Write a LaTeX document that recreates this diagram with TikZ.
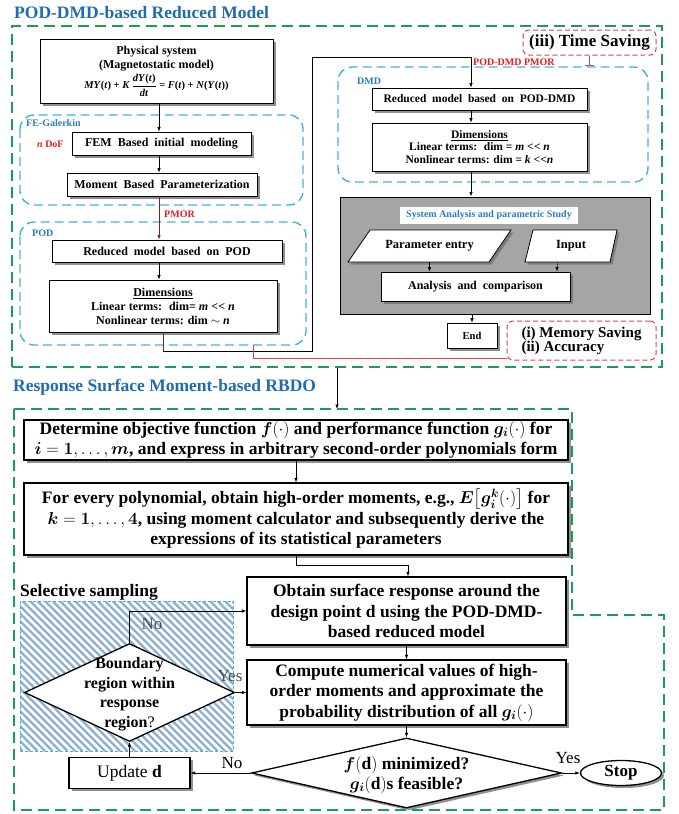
\documentclass[tikz,border=0pt]{standalone}
\usepackage{amsmath}
\usepackage{bm}
\usepackage{fontspec}
\setmainfont{Liberation Serif}
\usetikzlibrary{positioning,arrows.meta,shapes.geometric,shadows}
\definecolor{gline}{RGB}{30,155,85}
\definecolor{bline}{RGB}{65,178,230}
\definecolor{rline}{RGB}{210,70,80}
\definecolor{ttl}{RGB}{30,108,178}
\definecolor{lbl}{RGB}{40,125,195}
\definecolor{redt}{RGB}{228,30,30}
\definecolor{dred}{RGB}{150,25,25}
\definecolor{hatchc}{RGB}{140,175,210}
\definecolor{sysgray}{RGB}{165,165,165}
\newcommand{\wsp}{\spaceskip=0.5em plus 0.1em\relax}
\newcommand{\llt}{\textless\kern0.3pt\textless}

\begin{document}
\begin{tikzpicture}[x=1pt,y=-1pt,
  shd/.style={drop shadow={shadow xshift=2.5pt, shadow yshift=-2.5pt, fill=black!55, opacity=0.8}},
  sbox/.style={draw, line width=0.8pt, fill=white, inner sep=0pt, align=center, shd,
               font=\fontsize{12}{14}\selectfont\bfseries},
  wide/.style={font=\fontsize{12}{14}\selectfont\bfseries\wsp},
  bbox/.style={draw, line width=1.3pt, fill=white, inner sep=0pt, align=center, shd,
               font=\fontsize{17.5}{20.5}\selectfont\bfseries},
  gfr/.style={draw=gline, line width=1.8pt, dash pattern=on 11pt off 6pt},
  bfr/.style={draw=bline, line width=1.4pt, dash pattern=on 9pt off 5pt, rounded corners=14pt},
  rfr/.style={draw=rline, line width=1pt, dash pattern=on 5pt off 3pt, rounded corners=6pt},
  ttlf/.style={font=\fontsize{17.5}{20}\selectfont\bfseries, text=ttl, inner sep=0pt, anchor=west},
  tag/.style={font=\fontsize{10}{11}\selectfont\bfseries, text=lbl, inner sep=0pt, anchor=west},
  redtag/.style={font=\fontsize{10}{11}\selectfont\bfseries, text=redt, inner sep=0pt, anchor=west},
  lab/.style={font=\fontsize{17}{19}\selectfont, inner sep=0pt},
  pbox/.style={draw, line width=0.8pt, fill=white, shd},
  arr/.style={-{Latex[length=4.5pt,width=3.5pt]}, line width=0.7pt}]
\useasboundingbox (0,0) rectangle (678,814);

% POD-DMD part
\node[ttlf] (t1) at (14,13) {POD-DMD-based Reduced Model};
\node[gfr, minimum width=650pt, minimum height=341pt] (topfr) at (337,196.5) {};
\draw[bfr] (20,115) rectangle (303,205);
\draw[bfr] (20,222) rectangle (306,345);
\draw[bfr] (338,67) rectangle (648,182);
\node[tag] (feg) at (26,123) {FE-Galerkin};
\node[tag] (podt) at (32,233) {POD};
\node[tag] (dmdt) at (357,81) {DMD};
\node[redtag] (ndof) at (37,144) {\textit{n} DoF};
\node[redtag] (pmor) at (164,214) {PMOR};
\node[redtag] (pdpmor) at (473,62) {POD-DMD PMOR};
\coordinate (lcol) at (159,0);
\coordinate (dcol) at (471,0);

\node[sbox, minimum width=233pt, minimum height=64pt] (phys) at (156.5,71)
  {Physical system\\(Magnetostatic model)\\[2pt]
   {\fontsize{10.5}{12}\selectfont\textit{MY}(\textit{t}) + \textit{K}\,$\dfrac{\text{\textit{dY}(\textit{t})}}{\text{\textit{dt}}}$ = \textit{F}(\textit{t}) + \textit{N}(\textit{Y}(\textit{t}))}};
\node[sbox, wide, minimum width=179pt, minimum height=23pt] (fem) at (161.5,143.5) {FEM Based initial modeling};
\node[sbox, wide, minimum width=190pt, minimum height=23pt] (mbp) at (162,184.5) {Moment Based Parameterization};
\node[sbox, wide, minimum width=230pt, minimum height=22pt] (redpod) at (167,251) {Reduced model based on POD};
\node[sbox, minimum width=228pt, minimum height=52pt] (dimpod) at (163,306)
  {\underline{Dimensions}\\Linear terms: \ dim= \textit{m} \llt\ \textit{n}\\Nonlinear terms: dim $\sim$ \textit{n}};
\draw[arr] (phys.south -| lcol) -- (fem.north -| lcol);
\draw[arr] (fem.south -| lcol) -- (mbp.north -| lcol);
\draw[arr, dred] (mbp.south -| lcol) -- (redpod.north -| lcol);
\draw[arr] (redpod.south -| lcol) -- (dimpod.north -| lcol);

\node[sbox, wide, font=\fontsize{11.5}{13}\selectfont\bfseries\wsp, minimum width=215pt, minimum height=22pt] (redd) at (479.5,99) {Reduced model based on POD-DMD};
\node[sbox, font=\fontsize{11.5}{12.5}\selectfont\bfseries, minimum width=215pt, minimum height=48pt] (dimd) at (479.5,147)
  {\underline{Dimensions}\\Linear terms: \ dim = \textit{m} \llt\ \textit{n}\\Nonlinear terms: dim = \textit{k} \llt\textit{n}};
\draw[dred, line width=0.8pt] (dimpod.south) -- ++(0,19) coordinate (k1);
\draw[arr] (k1) -| (312,57) -| (redd.north -| dcol);
\draw[arr] (redd.south -| dcol) -- (dimd.north -| dcol);

% system analysis block
\node[draw, line width=1pt, fill=sysgray, minimum width=310pt, minimum height=117pt] (sys) at (495,255.5) {};
\draw[arr] (dimd.south -| dcol) -- (sys.north -| dcol);
\node[fill=white, minimum width=178pt, minimum height=17pt, inner sep=0pt,
      font=\fontsize{10}{11}\selectfont\bfseries, text=lbl] (sysl) at (489,215) {System Analysis and parametric Study};
\draw[pbox] (348,262) -- (489,262) -- (511,230) -- (370,230) -- cycle;
\node[font=\fontsize{12.5}{14}\selectfont\bfseries, minimum height=32pt, inner sep=0pt] (pent) at (429.5,246) {Parameter entry};
\draw[pbox] (525,262) -- (610,262) -- (617,230) -- (533,230) -- cycle;
\node[font=\fontsize{12.5}{14}\selectfont\bfseries, minimum height=32pt, inner sep=0pt] (inp) at (571,246) {Input};
\node[sbox, wide, minimum width=189pt, minimum height=29pt] (ana) at (475.5,286.5) {Analysis and comparison};
\draw[arr] (pent.south) -- (pent.south |- ana.north);
\draw[arr, densely dotted] ([xshift=-14pt]inp.south) -- ([xshift=-14pt]inp.south |- ana.north);
\node[sbox, font=\fontsize{10.5}{12}\selectfont\bfseries, minimum width=50pt, minimum height=25pt] (end) at (472,335.5) {End};
\draw[arr] (sys.south -| end) -- (end.north);

\node[rfr, minimum width=133pt, minimum height=25pt, inner sep=0pt, font=\fontsize{17}{19}\selectfont\bfseries] (tsave) at (589.5,42.5) {(iii) Time Saving};
\draw[rline, line width=1pt, -{Bar[width=9pt]}] (tsave.south) -- ++(0,10);
\node[rfr, minimum width=149pt, minimum height=39pt, inner sep=0pt, align=left,
      font=\fontsize{15}{14}\selectfont\bfseries] (msave) at (581.5,340.5) {(i) Memory Saving\\(ii) Accuracy};
\coordinate (podb) at (253,345);
\draw[rline, line width=1pt] (podb) |- ([yshift=2pt]msave.south west);

% RBDO part
\node[ttlf] (t2) at (13,387) {Response Surface Moment-based RBDO};
\draw[gfr] (14,409) -- (572,409) -- (572,615) -- (664,615) -- (664,810) -- (14,810) -- cycle;
\coordinate (lowtop) at (337,409);
\draw[arr] (topfr.south) -- (lowtop);

\node[bbox, minimum width=544pt, minimum height=40pt] (det) at (296,440)
  {Determine objective function $\bm{f}(\cdot)$ and performance function $\bm{g_i}(\cdot)$ for\\
   $\bm{i}=\bm{1},\dots,\bm{m}$, and express in arbitrary second-order polynomials form};
\node[bbox, minimum width=544pt, minimum height=72pt] (mom) at (296,519)
  {For every polynomial, obtain high-order moments, e.g., $\bm{E}\big[\bm{g_i}^{\bm{k}}(\cdot)\big]$ for\\
   $\bm{k}=\bm{1},\dots,\bm{4}$, using moment calculator and subsequently derive the\\
   expressions of its statistical parameters};
\node[bbox, minimum width=319pt, minimum height=68pt] (obt) at (406.5,611)
  {Obtain surface response around the\\design point d using the POD-DMD-\\based reduced model};
\node[bbox, minimum width=319pt, minimum height=65pt] (cmp) at (406.5,692.5)
  {Compute numerical values of high-\\order moments and approximate the\\probability distribution of all $\bm{g_i}(\cdot)$};
\draw[arr] (det) -- (mom);
\draw[arr] (mom.south) -- ++(0,10) -| ([xshift=1.5pt]obt.north);
\draw[arr] (obt) -- (cmp);

% selective sampling area
\node[font=\fontsize{17.5}{20}\selectfont\bfseries, anchor=west, inner sep=0pt] (sels) at (20,592) {Selective sampling};
\begin{scope}
  \clip (20,601) rectangle (233,751);
  \fill[white] (20,601) rectangle (233,751);
  \foreach \hx in {-150,-142.5,...,240}
    \draw[hatchc, line width=2.3pt] (\hx,601) -- ++(150,150);
\end{scope}
\draw[draw=bline, line width=0.6pt, dash pattern=on 3pt off 2pt] (20,601) rectangle (233,751);
\node[diamond, draw, line width=1.3pt, fill=white, aspect=2.14, minimum width=210pt, minimum height=98pt, inner sep=0pt] (bnd) at (129.5,692.5) {};
\node[font=\fontsize{16}{19.5}\selectfont\bfseries, align=center, inner sep=0pt] (bndtxt) at (129.5,694) {Boundary\\region within\\response\\region\textmd{?}};
\node[diamond, draw, line width=1.3pt, fill=white, aspect=4.4, minimum width=310pt, minimum height=70pt, inner sep=0pt, shd] (fmin) at (406.5,773) {};
\node[font=\fontsize{17.5}{20}\selectfont\bfseries, align=center, inner sep=0pt] (fmintxt) at (406.5,775)
  {$\bm{f}(\textbf{d})$ minimized?\\$\bm{g_i}(\textbf{d})$s feasible?};
\node[bbox, font=\fontsize{17.5}{20}\selectfont, minimum width=121pt, minimum height=31pt] (upd) at (129.5,773) {Update \textbf{d}};
\node[ellipse, draw, line width=1.3pt, fill=white, minimum width=81pt, minimum height=25pt, inner sep=0pt, shd,
      font=\fontsize{17}{19}\selectfont\bfseries] (stop) at (621,773) {Stop};
\draw[arr] (cmp) -- (fmin);
\draw[arr] (fmin.east) -- (stop.west);
\draw[arr] (fmin.west) -- (upd.east);
\draw[arr] (upd) -- (bnd);
\draw[arr] (bnd.north) |- (obt.west);
\draw[arr] (bnd.east) -- (cmp.west);
\node[lab, text=black!70] (no1) at (152,624) {No};
\node[lab, text=black!70] (yes1) at (230,676) {Yes};
\node[lab] (no2) at (232,763) {No};
\node[lab] (yes2) at (568,758) {Yes};
\end{tikzpicture}
\end{document}
